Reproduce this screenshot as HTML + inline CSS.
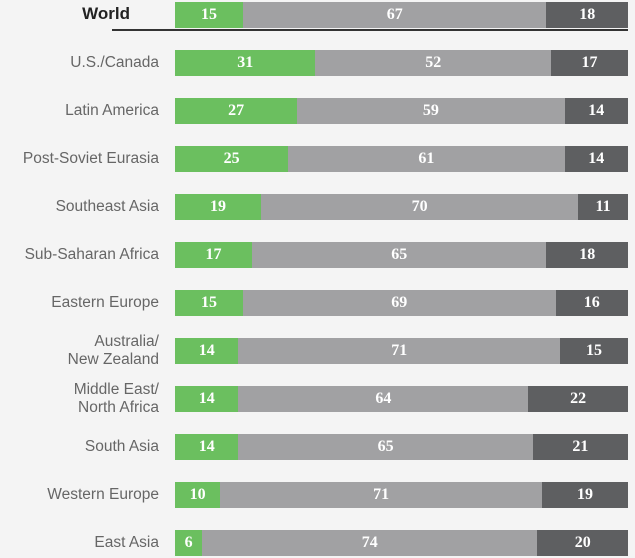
<!DOCTYPE html>
<html><head><style>
body{margin:0;width:635px;height:558px;background:#f4f4f4;position:relative;overflow:hidden;font-family:"Liberation Sans",sans-serif}
.r{position:absolute;left:175px;width:453px;height:26px;display:flex}
.r div{height:100%;display:flex;align-items:center;justify-content:center;color:#fff;font-family:"Liberation Serif",serif;font-weight:bold;font-size:16px}
.g{background:#6bbf5f}.m{background:#a1a1a3}.d{background:#5e5f61}
.l{position:absolute;right:476px;color:#666;font-size:15.5px;text-align:right;line-height:18px}
</style></head><body>
<div style="position:absolute;left:112px;top:29px;width:516px;height:2px;background:#333"></div>
<div class="l" style="top:5px;color:#222;font-weight:bold;font-size:17px;right:505px">World</div>
<div id="c"></div>
<script>
var d=[["World",15,67,18],["U.S./Canada",31,52,17],["Latin America",27,59,14],["Post-Soviet Eurasia",25,61,14],["Southeast Asia",19,70,11],["Sub-Saharan Africa",17,65,18],["Eastern Europe",15,69,16],["Australia/<br>New Zealand",14,71,15],["Middle East/<br>North Africa",14,64,22],["South Asia",14,65,21],["Western Europe",10,71,19],["East Asia",6,74,20]];
var h="";
d.forEach(function(r,i){var t=2+48*i;
if(i>0){var two=r[0].indexOf("<br>")>0;h+='<div class="l" style="top:'+(two?t-5:t+4)+'px">'+r[0]+'</div>';}
h+='<div class="r" style="top:'+t+'px"><div class="g" style="width:'+r[1]+'%">'+r[1]+'</div><div class="m" style="width:'+r[2]+'%">'+r[2]+'</div><div class="d" style="width:'+r[3]+'%">'+r[3]+'</div></div>';});
document.getElementById("c").innerHTML=h;
</script>
</body></html>
